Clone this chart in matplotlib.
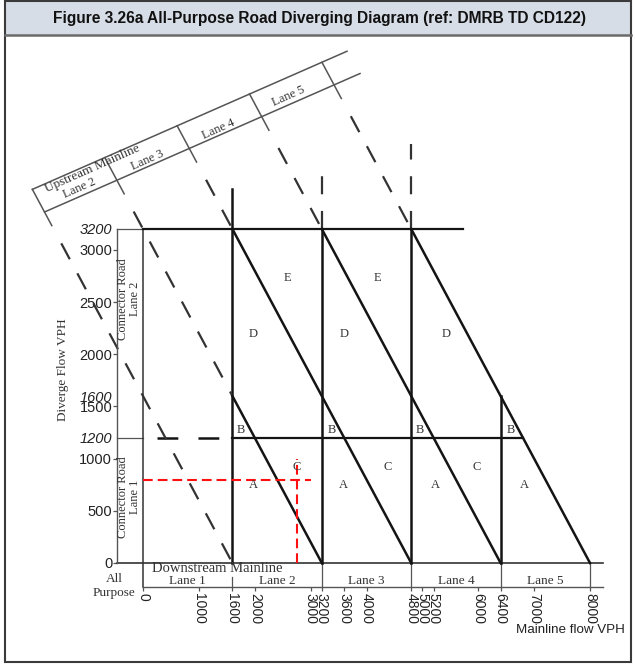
import matplotlib
matplotlib.use('Agg')
import matplotlib.pyplot as plt
from matplotlib.patches import Rectangle

plt.rcParams['font.family'] = ['Liberation Sans', 'DejaVu Sans']
plt.rcParams['lines.scale_dashes'] = False

# ---- chart values ----
x_ticks = [0, 1000, 1600, 2000, 3000, 3200, 3600, 4000, 4800, 5000, 5200, 6000, 6400, 7000, 8000]
y_ticks = [0, 500, 1000, 1200, 1500, 1600, 2000, 2500, 3000, 3200]
y_italic = [1200, 1600, 3200]
no_tick = [1200, 1600, 3200]
lane_edges = [0, 1600, 3200, 4800, 6400, 8000]
lane_names = ['Lane 1', 'Lane 2', 'Lane 3', 'Lane 4', 'Lane 5']

# upstream lane labels (sit on the slanted scale)
up_lane_names = ['Lane 2', 'Lane 3', 'Lane 4', 'Lane 5']
up_lane_x = [-1145, 72, 1342, 2595]
up_lane_y = [3593, 3861, 4158, 4474]

# diagonal boundaries  y = k - x
diag_k = [1600, 3200, 4800, 6400, 8000]
diag_solid_top = [0, 1600, 3200, 3200, 3200]   # solid part runs from here down to 0

# vertical boundaries (x, solid top, dashed top)
vert_x = [1600, 3200, 4800, 6400]
vert_solid_top = [3580, 3200, 3200, 1600]
vert_dash_top = [3580, 3760, 4010, 1600]

h3200_end = 5730
h1200_dash_start = 250
h1200_end = 6800

# upstream mainline slanted scale: y = c + m*x
up_slope = 0.235
up_low = 3777
up_high = 4045
up_right_low = 3884
up_right_high = 3651

zone_labels = ['E', 'E', 'D', 'D', 'D', 'B', 'B', 'B', 'B', 'C', 'C', 'C', 'A', 'A', 'A', 'A']
zone_x = [2594, 4204, 1968, 3596, 5420, 1752, 3380, 4960, 6590, 2755, 4383, 5975, 1968, 3578, 5224, 6834]
zone_y = [2730, 2730, 2193, 2193, 2193, 1270, 1270, 1270, 1270, 920, 920, 920, 747, 747, 747, 747]

example_x = 2750
example_y = 800

# ---- pixel mapping of the drawing ----
W, H = 635, 664
sx = (590 - 143) / 8000
sy = (563 - 229) / 3200
fig = plt.figure(figsize=(W / 100, H / 100), dpi=100)
ax = fig.add_axes([0, 0, 1, 1])
ax.set_xlim(-143 / sx, (W - 143) / sx)
ax.set_ylim(-(H - 563) / sy, 563 / sy)
ax.patch.set_visible(False)

dark = '#141414'
mid = '#333333'
thin = '#555555'
serif = ['Liberation Serif', 'DejaVu Serif']

for s in ['top', 'right']:
    ax.spines[s].set_visible(False)
ax.spines['left'].set_position(('data', -465))
ax.spines['left'].set_bounds(0, 3200)
ax.spines['bottom'].set_position(('data', -230))
ax.spines['bottom'].set_bounds(0, 8230)
for s in ['left', 'bottom']:
    ax.spines[s].set_color(thin)
    ax.spines[s].set_linewidth(1.0)

ax.set_yticks(y_ticks, labels=[str(v) for v in y_ticks])
ax.set_xticks(x_ticks, labels=[str(v) for v in x_ticks], rotation=-90)
ax.tick_params(axis='y', length=3, width=0.9, color=thin, pad=0.5, labelsize=10.5, labelcolor='#222222')
ax.tick_params(axis='x', length=3, width=0.9, color=thin, pad=1, labelsize=10, labelcolor='#222222')
for t, v in zip(ax.yaxis.get_major_ticks(), y_ticks):
    if v in y_italic:
        t.label1.set_fontstyle('italic')
    if v in no_tick:
        t.tick1line.set_visible(False)

# connector-road box and downstream band
ax.plot([-465, 0], [3200, 3200], color=thin, lw=0.9, clip_on=False)
ax.plot([-465, 0], [1200, 1200], color=thin, lw=0.9, clip_on=False)
ax.plot([0, 0], [-230, 3200], color=mid, lw=1.1, clip_on=False)
ax.plot([-465, 8230], [0, 0], color=mid, lw=1.2, clip_on=False)
for e in lane_edges[2:]:
    ax.plot([e, e], [-230, 0], color=thin, lw=0.9)
ax.plot([1600, 1600], [-230, -130], color=thin, lw=0.9)

# horizontal boundaries
ax.plot([0, h3200_end], [3200, 3200], color=dark, lw=1.6)
ax.plot([h1200_dash_start, 1600], [1200, 1200], color=dark, lw=1.8, dashes=(15, 14.5))
ax.plot([1600, h1200_end], [1200, 1200], color=dark, lw=1.6)

# vertical boundaries
for x, st, dt in zip(vert_x, vert_solid_top, vert_dash_top):
    ax.plot([x, x], [0, st], color=dark, lw=1.8)
    if dt > st:
        ax.plot([x, x], [st, dt], color=mid, lw=1.6, dashes=(13, 12))

# upstream slanted scale
def up_hit(k, c):
    x = (k - c) / (1 + up_slope)
    return x, k - x

xl_low = up_hit(diag_k[0], up_low)[0]
xl_high = up_hit(diag_k[0], up_high)[0]
ax.plot([xl_low, up_right_low], [up_low + up_slope * xl_low, up_low + up_slope * up_right_low],
        color=thin, lw=1.1)
ax.plot([xl_high, up_right_high], [up_high + up_slope * xl_high, up_high + up_slope * up_right_high],
        color=thin, lw=1.1)

# diagonal boundaries
for k, top in zip(diag_k, diag_solid_top):
    xh, yh = up_hit(k, up_high)
    xlw, ylw = up_hit(k, up_low)
    ax.plot([xh, k - (ylw - 130)], [yh, ylw - 130], color=thin, lw=1.1)
    ax.plot([k - (ylw - 300), k - top], [ylw - 300, top], color=mid, lw=1.6, dashes=(13, 11.5))
    if top > 0:
        ax.plot([k - top, k], [top, 0], color=dark, lw=1.8)

# upstream labels
for name, x, y in zip(up_lane_names, up_lane_x, up_lane_y):
    ax.text(x, y, name, rotation=24, rotation_mode='anchor', ha='center', va='center',
            fontsize=9, family=serif, color='#333333')
ax.text(-913, 3775, 'Upstream Mainline', rotation=24, rotation_mode='anchor', ha='center',
        va='center', fontsize=9.5, family=serif, color='#333333')

# zone letters
for lab, x, y in zip(zone_labels, zone_x, zone_y):
    ax.text(x, y, lab, ha='center', va='center', fontsize=9, family=serif, color='#333333')

# downstream band labels
ax.text(1333, -57, 'Downstream Mainline', ha='center', va='center', fontsize=10.5,
        family=serif, color='#333333')
for i, name in enumerate(lane_names):
    ax.text((lane_edges[i] + lane_edges[i + 1]) / 2, -172, name, ha='center', va='center',
            fontsize=9.5, family=serif, color='#333333')

# connector road labels
ax.text(-251, 2529, 'Connector Road\nLane 2', rotation=90, ha='center', va='center',
        fontsize=9, family=serif, color='#333333', linespacing=0.95)
ax.text(-251, 632, 'Connector Road\nLane 1', rotation=90, ha='center', va='center',
        fontsize=9, family=serif, color='#333333', linespacing=0.95)
ax.text(-519, -218, 'All\nPurpose', ha='center', va='center', fontsize=9.5,
        family=serif, color='#333333', linespacing=1.2)
ax.text(-1432, 1849, 'Diverge Flow VPH', rotation=90, ha='center', va='center',
        fontsize=9.5, family=serif, color='#333333')
ax.text(7642, -642, 'Mainline flow VPH', ha='center', va='center', fontsize=9.6, color='#222222')

# worked example
ax.plot([0, 3000], [example_y, example_y], color='#ff1010', lw=1.5, dashes=(7, 3.6))
ax.plot([example_x, example_x], [0, 1000], color='#ff1010', lw=1.5, dashes=(7, 3.6))

# panel frame and title bar
fig.patches.append(Rectangle((5 / W, 1 - 35 / H), 626 / W, 34 / H, transform=fig.transFigure,
                             facecolor='#d7dde6', edgecolor='none', zorder=0))
fig.patches.append(Rectangle((5 / W, 2 / H), 626 / W, 661 / H, transform=fig.transFigure,
                             facecolor='none', edgecolor='#3a3a3a', lw=1.5))
fig.lines.append(plt.Line2D([5 / W, 631 / W], [1 - 35 / H, 1 - 35 / H], transform=fig.transFigure,
                            color='#6a6a6a', lw=1.8))
fig.text(319.5 / W, 1 - 19 / H, 'Figure 3.26a All-Purpose Road Diverging Diagram (ref: DMRB TD CD122)',
         ha='center', va='center', fontsize=11.2, fontweight='bold', color='#111111')

fig.savefig('out.png', dpi=100)
